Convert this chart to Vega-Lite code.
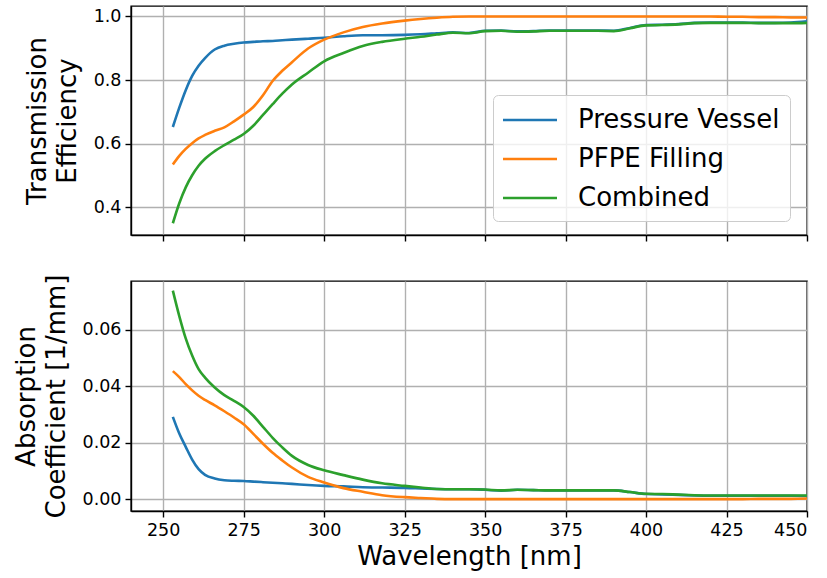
{
  "$schema": "https://vega.github.io/schema/vega-lite/v6.json",
  "padding": {"left": 12, "top": 5, "right": 5, "bottom": 5},
  "background": "white",
  "spacing": 46,
  "bounds": "flush",
  "datasets": {
    "curves": [
      {"wl":253,"series":"Pressure Vessel","T":0.652,"mu":0.0291},{"wl":253,"series":"PFPE Filling","T":0.534,"mu":0.0453},{"wl":253,"series":"Combined","T":0.349,"mu":0.0738},
      {"wl":255,"series":"Pressure Vessel","T":0.713,"mu":0.0232},{"wl":255,"series":"PFPE Filling","T":0.561,"mu":0.0432},{"wl":255,"series":"Combined","T":0.412,"mu":0.0648},
      {"wl":257,"series":"Pressure Vessel","T":0.768,"mu":0.0185},{"wl":257,"series":"PFPE Filling","T":0.583,"mu":0.0407},{"wl":257,"series":"Combined","T":0.462,"mu":0.0569},
      {"wl":259,"series":"Pressure Vessel","T":0.813,"mu":0.0140},{"wl":259,"series":"PFPE Filling","T":0.601,"mu":0.0385},{"wl":259,"series":"Combined","T":0.500,"mu":0.0508},
      {"wl":261,"series":"Pressure Vessel","T":0.845,"mu":0.0106},{"wl":261,"series":"PFPE Filling","T":0.616,"mu":0.0366},{"wl":261,"series":"Combined","T":0.530,"mu":0.0460},
      {"wl":263,"series":"Pressure Vessel","T":0.869,"mu":0.0086},{"wl":263,"series":"PFPE Filling","T":0.627,"mu":0.0351},{"wl":263,"series":"Combined","T":0.552,"mu":0.0430},
      {"wl":266,"series":"Pressure Vessel","T":0.896,"mu":0.0073},{"wl":266,"series":"PFPE Filling","T":0.640,"mu":0.0332},{"wl":266,"series":"Combined","T":0.576,"mu":0.0395},
      {"wl":269,"series":"Pressure Vessel","T":0.908,"mu":0.0067},{"wl":269,"series":"PFPE Filling","T":0.651,"mu":0.0311},{"wl":269,"series":"Combined","T":0.595,"mu":0.0368},
      {"wl":272,"series":"Pressure Vessel","T":0.914,"mu":0.0065},{"wl":272,"series":"PFPE Filling","T":0.670,"mu":0.0289},{"wl":272,"series":"Combined","T":0.612,"mu":0.0348},
      {"wl":275,"series":"Pressure Vessel","T":0.918,"mu":0.0064},{"wl":275,"series":"PFPE Filling","T":0.691,"mu":0.0265},{"wl":275,"series":"Combined","T":0.630,"mu":0.0326},
      {"wl":278,"series":"Pressure Vessel","T":0.920,"mu":0.0062},{"wl":278,"series":"PFPE Filling","T":0.715,"mu":0.0231},{"wl":278,"series":"Combined","T":0.656,"mu":0.0295},
      {"wl":281,"series":"Pressure Vessel","T":0.922,"mu":0.0060},{"wl":281,"series":"PFPE Filling","T":0.752,"mu":0.0196},{"wl":281,"series":"Combined","T":0.690,"mu":0.0256},
      {"wl":284,"series":"Pressure Vessel","T":0.923,"mu":0.0058},{"wl":284,"series":"PFPE Filling","T":0.797,"mu":0.0164},{"wl":284,"series":"Combined","T":0.724,"mu":0.0217},
      {"wl":287,"series":"Pressure Vessel","T":0.925,"mu":0.0056},{"wl":287,"series":"PFPE Filling","T":0.829,"mu":0.0137},{"wl":287,"series":"Combined","T":0.757,"mu":0.0183},
      {"wl":290,"series":"Pressure Vessel","T":0.927,"mu":0.0054},{"wl":290,"series":"PFPE Filling","T":0.856,"mu":0.0112},{"wl":290,"series":"Combined","T":0.786,"mu":0.0153},
      {"wl":295,"series":"Pressure Vessel","T":0.930,"mu":0.0050},{"wl":295,"series":"PFPE Filling","T":0.899,"mu":0.0079},{"wl":295,"series":"Combined","T":0.823,"mu":0.0121},
      {"wl":300,"series":"Pressure Vessel","T":0.933,"mu":0.0047},{"wl":300,"series":"PFPE Filling","T":0.927,"mu":0.0059},{"wl":300,"series":"Combined","T":0.859,"mu":0.0102},
      {"wl":306,"series":"Pressure Vessel","T":0.938,"mu":0.0045},{"wl":306,"series":"PFPE Filling","T":0.950,"mu":0.0039},{"wl":306,"series":"Combined","T":0.885,"mu":0.0085},
      {"wl":312,"series":"Pressure Vessel","T":0.941,"mu":0.0042},{"wl":312,"series":"PFPE Filling","T":0.967,"mu":0.0026},{"wl":312,"series":"Combined","T":0.907,"mu":0.0069},
      {"wl":318,"series":"Pressure Vessel","T":0.941,"mu":0.0041},{"wl":318,"series":"PFPE Filling","T":0.978,"mu":0.0014},{"wl":318,"series":"Combined","T":0.920,"mu":0.0056},
      {"wl":325,"series":"Pressure Vessel","T":0.942,"mu":0.0040},{"wl":325,"series":"PFPE Filling","T":0.987,"mu":0.0007},{"wl":325,"series":"Combined","T":0.930,"mu":0.0047},
      {"wl":330,"series":"Pressure Vessel","T":0.944,"mu":0.0038},{"wl":330,"series":"PFPE Filling","T":0.992,"mu":0.0004},{"wl":330,"series":"Combined","T":0.936,"mu":0.0041},
      {"wl":335,"series":"Pressure Vessel","T":0.947,"mu":0.0036},{"wl":335,"series":"PFPE Filling","T":0.996,"mu":0.0001},{"wl":335,"series":"Combined","T":0.943,"mu":0.0036},
      {"wl":340,"series":"Pressure Vessel","T":0.950,"mu":0.0035},{"wl":340,"series":"PFPE Filling","T":0.999,"mu":0.0000},{"wl":340,"series":"Combined","T":0.949,"mu":0.0035},
      {"wl":345,"series":"Pressure Vessel","T":0.948,"mu":0.0035},{"wl":345,"series":"PFPE Filling","T":1.000,"mu":0.0000},{"wl":345,"series":"Combined","T":0.947,"mu":0.0035},
      {"wl":350,"series":"Pressure Vessel","T":0.955,"mu":0.0033},{"wl":350,"series":"PFPE Filling","T":1.000,"mu":0.0000},{"wl":350,"series":"Combined","T":0.954,"mu":0.0034},
      {"wl":355,"series":"Pressure Vessel","T":0.956,"mu":0.0030},{"wl":355,"series":"PFPE Filling","T":1.000,"mu":0.0000},{"wl":355,"series":"Combined","T":0.955,"mu":0.0031},
      {"wl":360,"series":"Pressure Vessel","T":0.953,"mu":0.0033},{"wl":360,"series":"PFPE Filling","T":1.000,"mu":0.0000},{"wl":360,"series":"Combined","T":0.952,"mu":0.0033},
      {"wl":365,"series":"Pressure Vessel","T":0.954,"mu":0.0032},{"wl":365,"series":"PFPE Filling","T":1.000,"mu":0.0000},{"wl":365,"series":"Combined","T":0.953,"mu":0.0032},
      {"wl":370,"series":"Pressure Vessel","T":0.956,"mu":0.0031},{"wl":370,"series":"PFPE Filling","T":1.000,"mu":0.0000},{"wl":370,"series":"Combined","T":0.955,"mu":0.0031},
      {"wl":375,"series":"Pressure Vessel","T":0.956,"mu":0.0031},{"wl":375,"series":"PFPE Filling","T":1.000,"mu":0.0000},{"wl":375,"series":"Combined","T":0.955,"mu":0.0031},
      {"wl":380,"series":"Pressure Vessel","T":0.956,"mu":0.0031},{"wl":380,"series":"PFPE Filling","T":1.000,"mu":0.0000},{"wl":380,"series":"Combined","T":0.955,"mu":0.0031},
      {"wl":385,"series":"Pressure Vessel","T":0.956,"mu":0.0031},{"wl":385,"series":"PFPE Filling","T":1.000,"mu":0.0000},{"wl":385,"series":"Combined","T":0.955,"mu":0.0031},
      {"wl":390,"series":"Pressure Vessel","T":0.955,"mu":0.0031},{"wl":390,"series":"PFPE Filling","T":1.000,"mu":0.0000},{"wl":390,"series":"Combined","T":0.954,"mu":0.0031},
      {"wl":395,"series":"Pressure Vessel","T":0.964,"mu":0.0025},{"wl":395,"series":"PFPE Filling","T":1.000,"mu":0.0000},{"wl":395,"series":"Combined","T":0.963,"mu":0.0025},
      {"wl":400,"series":"Pressure Vessel","T":0.973,"mu":0.0018},{"wl":400,"series":"PFPE Filling","T":1.000,"mu":0.0000},{"wl":400,"series":"Combined","T":0.972,"mu":0.0019},
      {"wl":405,"series":"Pressure Vessel","T":0.974,"mu":0.0017},{"wl":405,"series":"PFPE Filling","T":1.000,"mu":0.0000},{"wl":405,"series":"Combined","T":0.973,"mu":0.0018},
      {"wl":410,"series":"Pressure Vessel","T":0.976,"mu":0.0015},{"wl":410,"series":"PFPE Filling","T":1.000,"mu":0.0000},{"wl":410,"series":"Combined","T":0.975,"mu":0.0016},
      {"wl":415,"series":"Pressure Vessel","T":0.980,"mu":0.0013},{"wl":415,"series":"PFPE Filling","T":1.000,"mu":0.0000},{"wl":415,"series":"Combined","T":0.979,"mu":0.0014},
      {"wl":420,"series":"Pressure Vessel","T":0.981,"mu":0.0012},{"wl":420,"series":"PFPE Filling","T":1.000,"mu":0.0000},{"wl":420,"series":"Combined","T":0.980,"mu":0.0013},
      {"wl":425,"series":"Pressure Vessel","T":0.981,"mu":0.0012},{"wl":425,"series":"PFPE Filling","T":0.999,"mu":0.0000},{"wl":425,"series":"Combined","T":0.980,"mu":0.0013},
      {"wl":430,"series":"Pressure Vessel","T":0.981,"mu":0.0012},{"wl":430,"series":"PFPE Filling","T":0.999,"mu":0.0000},{"wl":430,"series":"Combined","T":0.980,"mu":0.0013},
      {"wl":435,"series":"Pressure Vessel","T":0.980,"mu":0.0012},{"wl":435,"series":"PFPE Filling","T":0.998,"mu":0.0001},{"wl":435,"series":"Combined","T":0.979,"mu":0.0013},
      {"wl":440,"series":"Pressure Vessel","T":0.980,"mu":0.0012},{"wl":440,"series":"PFPE Filling","T":0.998,"mu":0.0001},{"wl":440,"series":"Combined","T":0.979,"mu":0.0013},
      {"wl":445,"series":"Pressure Vessel","T":0.981,"mu":0.0012},{"wl":445,"series":"PFPE Filling","T":0.997,"mu":0.0001},{"wl":445,"series":"Combined","T":0.979,"mu":0.0013},
      {"wl":450,"series":"Pressure Vessel","T":0.985,"mu":0.0011},{"wl":450,"series":"PFPE Filling","T":0.997,"mu":0.0002},{"wl":450,"series":"Combined","T":0.980,"mu":0.0013}
    ]
  },
  "data": {"name": "curves"},
  "vconcat": [
    {
      "width": 676,
      "height": 229,
      "mark": {"type": "line", "strokeWidth": 2.6, "interpolate": "monotone", "clip": true},
      "encoding": {
        "x": {"field": "wl", "type": "quantitative",
              "scale": {"domain": [240, 450], "nice": false, "zero": false},
              "axis": {"values": [250,275,300,325,350,375,400,425,450], "labels": false, "title": null}},
        "y": {"field": "T", "type": "quantitative",
              "scale": {"domain": [0.312, 1.033], "nice": false, "zero": false},
              "axis": {"values": [0.4,0.6,0.8,1.0], "format": ".1f", "title": ["Transmission", "Efficiency"], "titleLineHeight": 30, "titlePadding": 13}},
        "color": {"field": "series", "type": "nominal",
                  "scale": {"domain": ["Pressure Vessel","PFPE Filling","Combined"], "range": ["#1f77b4","#ff7f0e","#2ca02c"]},
                  "legend": {"title": null, "orient": "none", "legendX": 362, "legendY": 89,
                             "symbolType": "M-2,0H2", "symbolSize": 729, "symbolStrokeWidth": 2.6, "symbolOffset": 12,
                             "labelFontSize": 26, "labelOffset": 33, "rowPadding": 11, "padding": 10,
                             "fillColor": "rgba(255,255,255,0.8)", "strokeColor": "#cccccc", "cornerRadius": 5,
                             "labelColor": "black", "labelLimit": 400}}
      }
    },
    {
      "width": 676,
      "height": 230,
      "mark": {"type": "line", "strokeWidth": 2.6, "interpolate": "monotone", "clip": true},
      "encoding": {
        "x": {"field": "wl", "type": "quantitative",
              "scale": {"domain": [240, 450], "nice": false, "zero": false},
              "axis": {"values": [250,275,300,325,350,375,400,425,450], "format": "d", "title": "Wavelength [nm]", "titlePadding": 5}},
        "y": {"field": "mu", "type": "quantitative",
              "scale": {"domain": [-0.0042, 0.0772], "nice": false, "zero": false},
              "axis": {"values": [0,0.02,0.04,0.06], "format": ".2f", "title": ["Absorption", "Coefficient [1/mm]"], "titleLineHeight": 30, "titlePadding": 13}},
        "color": {"field": "series", "type": "nominal",
                  "scale": {"domain": ["Pressure Vessel","PFPE Filling","Combined"], "range": ["#1f77b4","#ff7f0e","#2ca02c"]},
                  "legend": null}
      }
    }
  ],
  "resolve": {"scale": {"y": "independent"}},
  "config": {
    "font": "DejaVu Sans",
    "view": {"stroke": "black", "strokeWidth": 1.4},
    "axis": {
      "grid": true, "gridColor": "#b0b0b0", "gridWidth": 1.4, "gridOpacity": 1,
      "domainColor": "black", "domainWidth": 1.4,
      "tickColor": "black", "tickWidth": 1.4, "tickSize": 6,
      "labelFont": "DejaVu Sans", "labelFontSize": 17.5, "labelColor": "black", "labelPadding": 4,
      "titleFont": "DejaVu Sans", "titleFontSize": 26, "titleFontWeight": "normal", "titleColor": "black"
    },
    "legend": {"labelFont": "DejaVu Sans"}
  }
}
